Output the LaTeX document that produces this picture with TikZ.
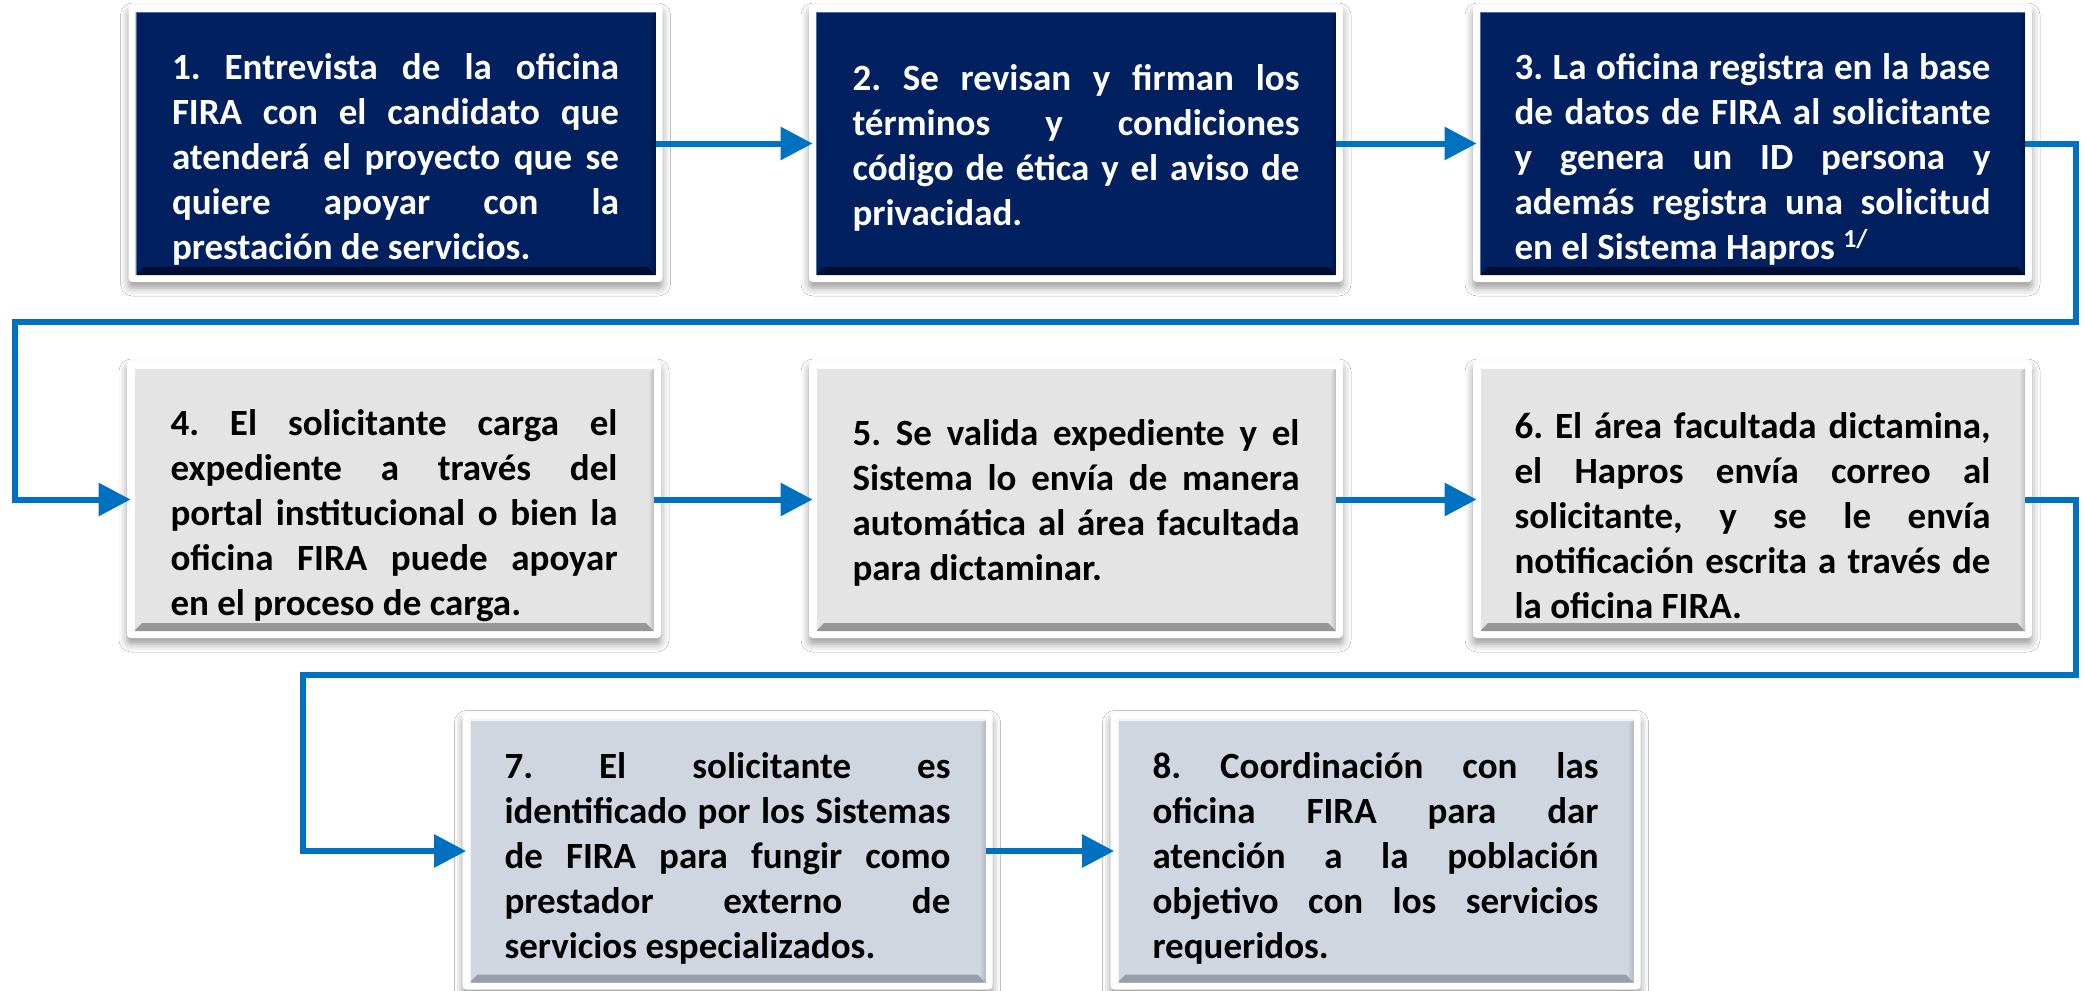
\documentclass[tikz,border=0pt]{standalone}
\usepackage{fontspec}
\setmainfont{Carlito}
\usetikzlibrary{arrows.meta,shadows.blur}
\definecolor{navy}{RGB}{0,32,96}
\definecolor{navydark}{RGB}{0,12,48}
\definecolor{navylight}{RGB}{80,110,170}
\definecolor{lgray}{RGB}{228,228,228}
\definecolor{lgraydark}{RGB}{150,150,150}
\definecolor{bgray}{RGB}{208,214,224}
\definecolor{bgraydark}{RGB}{150,158,172}
\definecolor{cblue}{RGB}{0,112,192}
% text block: #1 downward shift, #2 width, #3 text
\newcommand\stxt[3]{\raisebox{-#1}[\height][\depth]{\parbox{#2}{#3}}}
\tikzset{
  frame/.style={fill=white, rounded corners=2pt, inner sep=0pt, minimum height=138.5pt,
    blur shadow={shadow xshift=0pt, shadow yshift=-3pt, shadow blur radius=4pt, shadow opacity=40}},
  bevel/.style n args={3}{path picture={
    \shade[top color=#1, bottom color=#2]
      (path picture bounding box.south west) -- (path picture bounding box.south east)
      -- ([xshift=-4pt,yshift=4pt]path picture bounding box.south east)
      -- ([xshift=4pt,yshift=4pt]path picture bounding box.south west) -- cycle;
    \shade[left color=#1, right color=#2, opacity=0.5]
      (path picture bounding box.south east) -- (path picture bounding box.north east)
      -- ([xshift=-3pt,yshift=-3pt]path picture bounding box.north east)
      -- ([xshift=-3pt,yshift=4pt]path picture bounding box.south east) -- cycle;
    \draw[#3, line width=1pt]
      (path picture bounding box.south west) -- (path picture bounding box.north west)
      -- (path picture bounding box.north east);
  }},
  stepbase/.style={inner sep=0pt, minimum height=131.5pt,
    font=\bfseries\fontsize{18.5pt}{22.5pt}\selectfont\frenchspacing},
  darkstep/.style={stepbase, fill=navy, text=white, bevel={navy}{navydark}{navylight}},
  graystep/.style={stepbase, fill=lgray, text=black, bevel={lgray}{lgraydark}{white}},
  bluestep/.style={stepbase, fill=bgray, text=black, bevel={bgray}{bgraydark}{white!70!bgray}},
  conn/.style={draw=cblue, line width=3pt, -{Triangle[length=16pt,width=16pt]}, shorten >=1.5pt},
}
\begin{document}
\begin{tikzpicture}[x=0.5pt,y=-0.5pt]
\useasboundingbox (0,0) rectangle (2085,991);
\fill[white] (0,0) rectangle (2085,991);

% Row 1
\node[frame, minimum width=267pt] (f1) at (395.5,143.5) {};
\node[darkstep, minimum width=260pt] (b1) at (395.5,143.5)
 {\stxt{8pt}{223.5pt}{1. Entrevista de la oficina\linebreak FIRA con el candidato que\linebreak atenderá el proyecto que se\linebreak quiere apoyar con la\linebreak prestación de servicios.}};
\node[frame, minimum width=267pt] (f2) at (1076,143.5) {};
\node[darkstep, minimum width=260pt] (b2) at (1076,143.5)
 {\stxt{2pt}{223.5pt}{2. Se revisan y firman los\linebreak términos y condiciones\linebreak código de ética y el aviso de\linebreak privacidad.}};
\node[frame, minimum width=279.5pt] (f3) at (1752.5,143.5) {};
\node[darkstep, minimum width=272.5pt] (b3) at (1752.5,143.5)
 {\stxt{8pt}{238pt}{3. La oficina registra en la base\linebreak de datos de FIRA al solicitante\linebreak y genera un ID persona y\linebreak además registra una solicitud\linebreak en el Sistema Hapros \textsuperscript{1/}}};

% Row 2
\node[frame, minimum width=267pt] (f4) at (394,499.5) {};
\node[graystep, minimum width=260pt] (b4) at (394,499.5)
 {\stxt{8pt}{223.5pt}{4. El solicitante carga el\linebreak expediente a través del\linebreak portal institucional o bien la\linebreak oficina FIRA puede apoyar\linebreak en el proceso de carga.}};
\node[frame, minimum width=267pt] (f5) at (1076,499.5) {};
\node[graystep, minimum width=260pt] (b5) at (1076,499.5)
 {\stxt{1.5pt}{223.5pt}{5. Se valida expediente y el\linebreak Sistema lo envía de manera\linebreak automática al área facultada\linebreak para dictaminar.}};
\node[frame, minimum width=279.5pt] (f6) at (1752.5,499.5) {};
\node[graystep, minimum width=272.5pt] (b6) at (1752.5,499.5)
 {\stxt{8pt}{238pt}{6. El área facultada dictamina,\linebreak el Hapros envía correo al\linebreak solicitante, y se le envía\linebreak notificación escrita a través de\linebreak la oficina FIRA.}};

% Row 3
\node[frame, minimum width=265pt] (f7) at (727.5,851) {};
\node[bluestep, minimum width=258pt] (b7) at (727.5,851)
 {\stxt{3.5pt}{223pt}{7. El solicitante es\linebreak identificado por los Sistemas\linebreak de FIRA para fungir como\linebreak prestador externo de\linebreak servicios especializados.}};
\node[frame, minimum width=265pt] (f8) at (1375.5,851) {};
\node[bluestep, minimum width=258pt] (b8) at (1375.5,851)
 {\stxt{3.5pt}{223pt}{8. Coordinación con las\linebreak oficina FIRA para dar\linebreak atención a la población\linebreak objetivo con los servicios\linebreak requeridos.}};

% Connectors
\coordinate (k1) at (2076,322);
\coordinate (k2) at (15,322);
\coordinate (k3) at (2076,675);
\coordinate (k4) at (303,675);

\draw[conn] (b1.east) -- (b2.west);
\draw[conn] (b2.east) -- (b3.west);
\draw[conn] (b3.east) -| (k1) -- (k2) |- (b4.west);
\draw[conn] (b4.east) -- (b5.west);
\draw[conn] (b5.east) -- (b6.west);
\draw[conn] (b6.east) -| (k3) -- (k4) |- (b7.west);
\draw[conn] (b7.east) -- (b8.west);
\end{tikzpicture}
\end{document}
